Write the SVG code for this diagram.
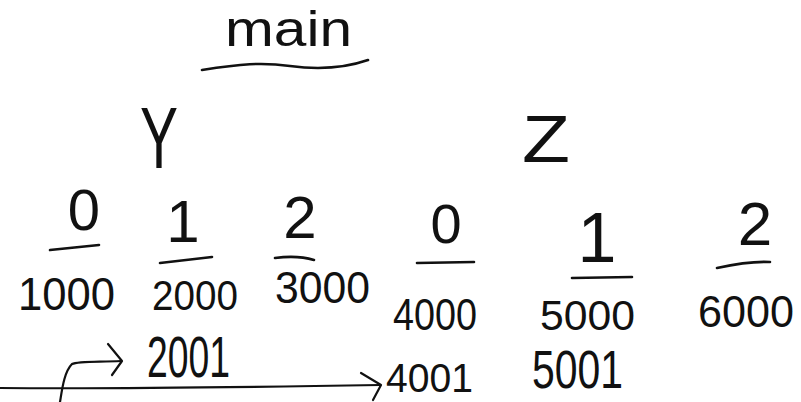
<svg xmlns="http://www.w3.org/2000/svg" width="801" height="402" viewBox="0 0 801 402">
<style>
  text { font-family: "Liberation Sans", Arial, sans-serif; fill: #111; }
  .mid { text-anchor: middle; }
  .ul { fill: none; stroke: #111; stroke-width: 2.6; stroke-linecap: round; stroke-linejoin: round; }
  .conn { fill: none; stroke: #111; stroke-width: 2.2; stroke-linecap: round; stroke-linejoin: round; }
</style>
<rect width="801" height="402" fill="#fff"/>

<g id="title">
  <text x="225" y="46" font-size="50" textLength="127" lengthAdjust="spacingAndGlyphs">main</text>
  <path class="ul" d="M202,70 C240,64 262,62 290,66 C320,70 345,68 368,60"/>
</g>

<g id="label-y">
  <text x="140" y="168" font-size="88" textLength="38" lengthAdjust="spacingAndGlyphs">Y</text>
</g>
<g id="label-z">
  <text x="522" y="162" font-size="66" textLength="48" lengthAdjust="spacingAndGlyphs">Z</text>
</g>

<g id="y-index-0">
  <text class="mid" x="84" y="230" font-size="58">0</text>
  <path class="ul" d="M50,250 L99,245"/>
</g>
<g id="y-index-1">
  <text class="mid" x="183" y="242" font-size="60">1</text>
  <path class="ul" d="M160,263 L212,257"/>
</g>
<g id="y-index-2">
  <text class="mid" x="300" y="238" font-size="60">2</text>
  <path class="ul" d="M275,258 C290,256 304,257 314,260"/>
</g>
<g id="z-index-0">
  <text class="mid" x="446" y="243" font-size="56">0</text>
  <path class="ul" d="M417,263 L474,262"/>
</g>
<g id="z-index-1">
  <text class="mid" x="597" y="262" font-size="70">1</text>
  <path class="ul" d="M572,278 L632,277"/>
</g>
<g id="z-index-2">
  <text class="mid" x="755" y="245" font-size="62">2</text>
  <path class="ul" d="M717,268 C735,264 752,261 770,262"/>
</g>

<g id="y-value-0">
  <text x="18" y="310" font-size="46" textLength="97" lengthAdjust="spacingAndGlyphs">1000</text>
</g>
<g id="y-value-1">
  <text x="152" y="310" font-size="42" textLength="86" lengthAdjust="spacingAndGlyphs">2000</text>
  <text x="147" y="377" font-size="58" textLength="83" lengthAdjust="spacingAndGlyphs">2001</text>
</g>
<g id="y-value-2">
  <text x="275" y="303" font-size="44" textLength="95" lengthAdjust="spacingAndGlyphs">3000</text>
</g>
<g id="z-value-0">
  <text x="393" y="330" font-size="44" textLength="84" lengthAdjust="spacingAndGlyphs">4000</text>
  <text x="386" y="392" font-size="40" textLength="87" lengthAdjust="spacingAndGlyphs">4001</text>
</g>
<g id="z-value-1">
  <text x="540" y="330" font-size="42" textLength="95" lengthAdjust="spacingAndGlyphs">5000</text>
  <text x="532" y="388" font-size="54" textLength="91" lengthAdjust="spacingAndGlyphs">5001</text>
</g>
<g id="z-value-2">
  <text x="698" y="327" font-size="45" textLength="96" lengthAdjust="spacingAndGlyphs">6000</text>
</g>

<g id="connectors">
  <path class="conn" d="M0,388 C120,389 260,387 380,385"/>
  <path class="conn" d="M361,373 L381,385 L373,400"/>
  <path class="conn" d="M60,402 C62,390 64,372 72,364 C78,361 95,362 121,361"/>
  <path class="conn" d="M108,344 L122,361 L112,375"/>
</g>
</svg>
